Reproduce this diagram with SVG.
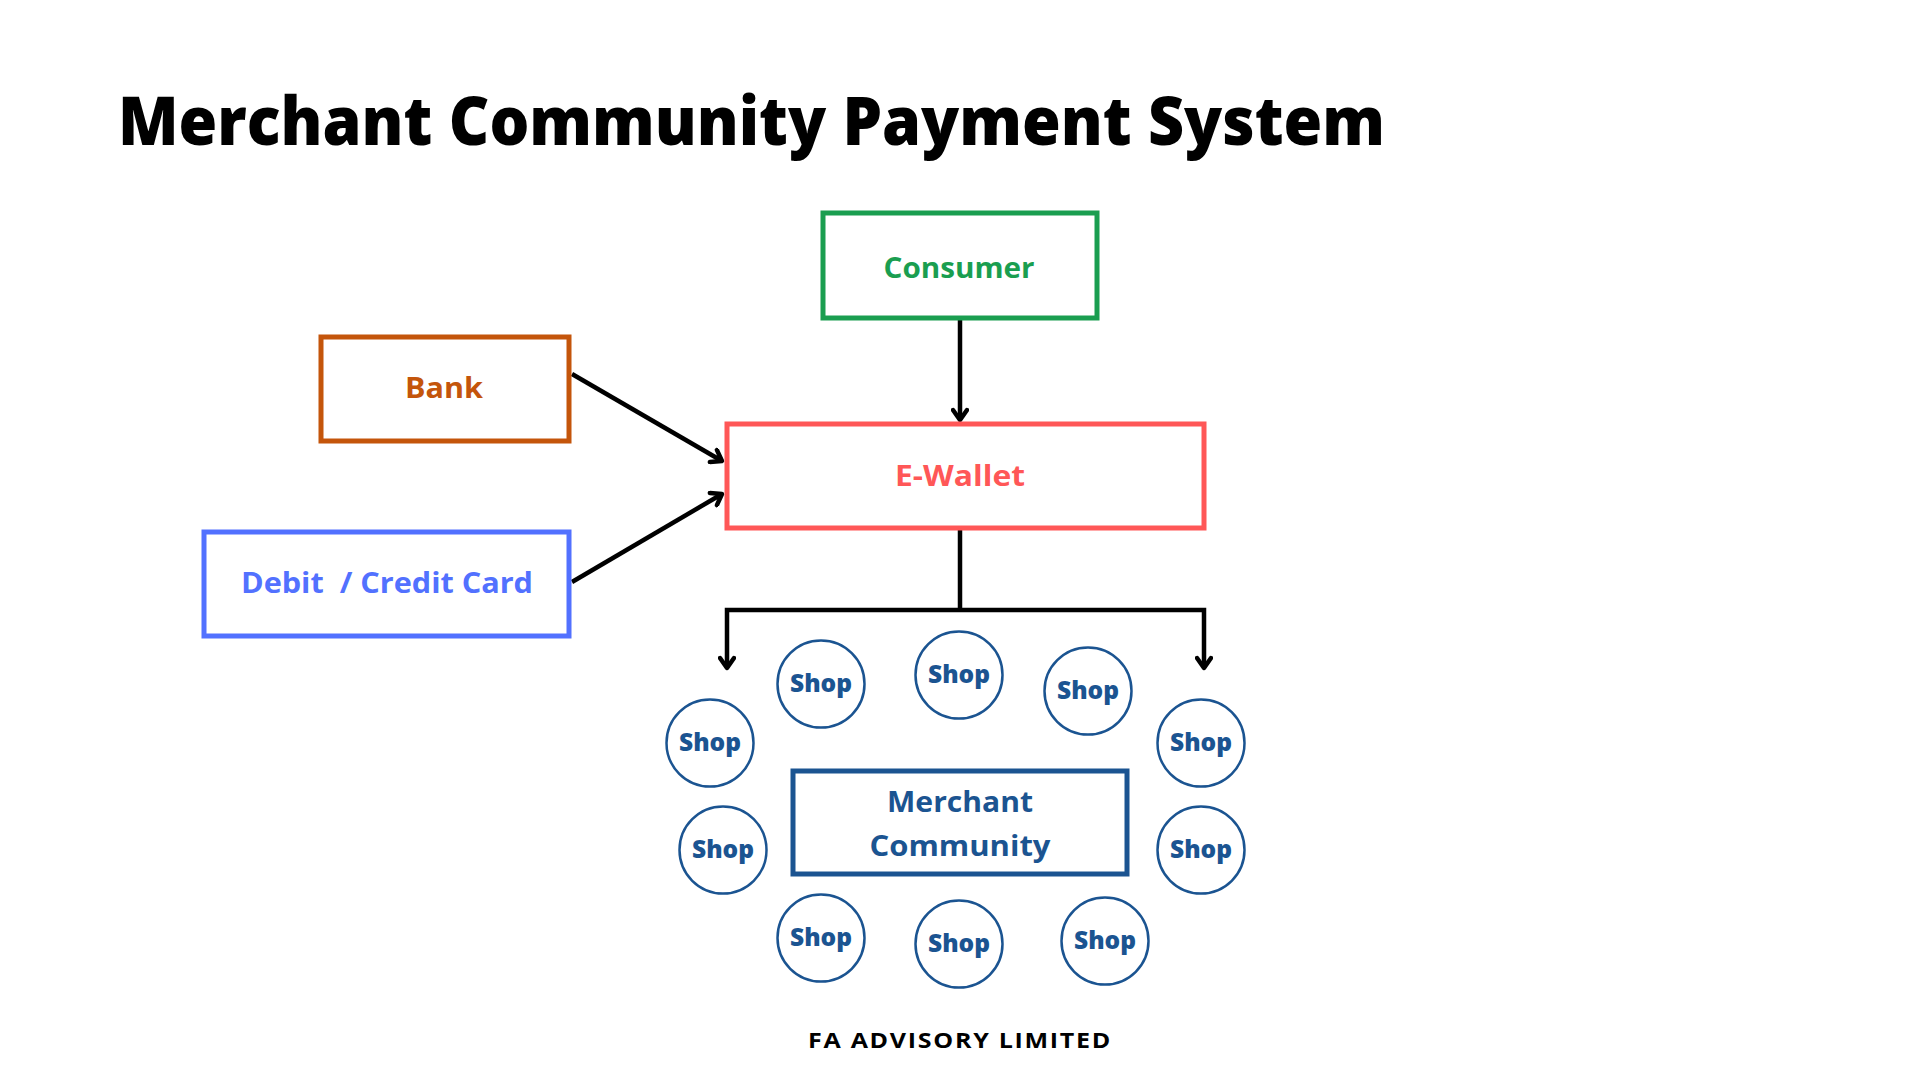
<svg xmlns="http://www.w3.org/2000/svg" width="1920" height="1080" viewBox="0 0 1920 1080">
<defs>
<style>
text{font-family:"Open Sans","Liberation Sans",sans-serif;font-weight:700;text-anchor:middle}
.box{fill:#fff;stroke-width:5}
.shop circle{fill:#fff;stroke:#1b5491;stroke-width:2.5}
.shop text{fill:#1b5491;font-size:24px;font-weight:800}
.conn{fill:none;stroke:#000;stroke-width:4.5;stroke-linejoin:miter}
</style>
<marker id="arr" markerUnits="userSpaceOnUse" markerWidth="18" markerHeight="18" viewBox="0 0 18 18" refX="14" refY="9" orient="auto">
<path d="M4,2 L14,9 L4,16" fill="none" stroke="#000" stroke-width="4.5" stroke-linecap="round" stroke-linejoin="round"/>
</marker>
</defs>
<rect width="1920" height="1080" fill="#fff"/>
<text x="118" y="145" style="text-anchor:start;font-size:67px;font-weight:800;fill:#000" textLength="1267" lengthAdjust="spacingAndGlyphs">Merchant Community Payment System</text>

<g id="connectors">
<path class="conn" d="M960,320 L960,420" marker-end="url(#arr)"/>
<path class="conn" d="M572,374 L722,461" marker-end="url(#arr)"/>
<path class="conn" d="M572,582 L722,494" marker-end="url(#arr)"/>
<path class="conn" d="M960,530 L960,610"/>
<path class="conn" d="M960,610 L727,610 L727,668" marker-end="url(#arr)"/>
<path class="conn" d="M960,610 L1204,610 L1204,668" marker-end="url(#arr)"/>
</g>

<g id="consumer">
<rect class="box" x="823" y="213" width="274" height="105" stroke="#1a9e50"/>
<text x="959" y="278" style="font-size:28px;fill:#1a9e50" textLength="151" lengthAdjust="spacingAndGlyphs">Consumer</text>
</g>
<g id="bank">
<rect class="box" x="321" y="337" width="248" height="104" stroke="#c4550b"/>
<text x="444" y="398" style="font-size:28px;fill:#c4550b" textLength="78" lengthAdjust="spacingAndGlyphs">Bank</text>
</g>
<g id="card">
<rect class="box" x="204" y="532" width="365" height="104" stroke="#5271ff"/>
<text x="387" y="593" style="font-size:28px;fill:#5271ff" textLength="292" lengthAdjust="spacingAndGlyphs" xml:space="preserve">Debit  / Credit Card</text>
</g>
<g id="ewallet">
<rect class="box" x="727" y="424" width="477" height="104" stroke="#ff5757"/>
<text x="960" y="486" style="font-size:28px;fill:#ff5757" textLength="130" lengthAdjust="spacingAndGlyphs">E-Wallet</text>
</g>
<g id="merchant-community">
<rect class="box" x="793" y="771" width="334" height="103" stroke="#1b5491"/>
<text x="960" y="812" style="font-size:29px;fill:#1b5491" textLength="146" lengthAdjust="spacingAndGlyphs">Merchant</text>
<text x="960" y="856" style="font-size:29px;fill:#1b5491" textLength="181" lengthAdjust="spacingAndGlyphs">Community</text>
</g>

<g id="shop1" class="shop"><circle cx="821" cy="684" r="43.5"/><text x="821" y="692" textLength="62" lengthAdjust="spacingAndGlyphs">Shop</text></g>
<g id="shop2" class="shop"><circle cx="959" cy="675" r="43.5"/><text x="959" y="683" textLength="62" lengthAdjust="spacingAndGlyphs">Shop</text></g>
<g id="shop3" class="shop"><circle cx="1088" cy="691" r="43.5"/><text x="1088" y="699" textLength="62" lengthAdjust="spacingAndGlyphs">Shop</text></g>
<g id="shop4" class="shop"><circle cx="710" cy="743" r="43.5"/><text x="710" y="751" textLength="62" lengthAdjust="spacingAndGlyphs">Shop</text></g>
<g id="shop5" class="shop"><circle cx="1201" cy="743" r="43.5"/><text x="1201" y="751" textLength="62" lengthAdjust="spacingAndGlyphs">Shop</text></g>
<g id="shop6" class="shop"><circle cx="723" cy="850" r="43.5"/><text x="723" y="858" textLength="62" lengthAdjust="spacingAndGlyphs">Shop</text></g>
<g id="shop7" class="shop"><circle cx="1201" cy="850" r="43.5"/><text x="1201" y="858" textLength="62" lengthAdjust="spacingAndGlyphs">Shop</text></g>
<g id="shop8" class="shop"><circle cx="821" cy="938" r="43.5"/><text x="821" y="946" textLength="62" lengthAdjust="spacingAndGlyphs">Shop</text></g>
<g id="shop9" class="shop"><circle cx="959" cy="944" r="43.5"/><text x="959" y="952" textLength="62" lengthAdjust="spacingAndGlyphs">Shop</text></g>
<g id="shop10" class="shop"><circle cx="1105" cy="941" r="43.5"/><text x="1105" y="949" textLength="62" lengthAdjust="spacingAndGlyphs">Shop</text></g>

<text x="960" y="1048" style="font-size:22px;fill:#000;letter-spacing:1.5px" textLength="304" lengthAdjust="spacingAndGlyphs">FA ADVISORY LIMITED</text>
</svg>
